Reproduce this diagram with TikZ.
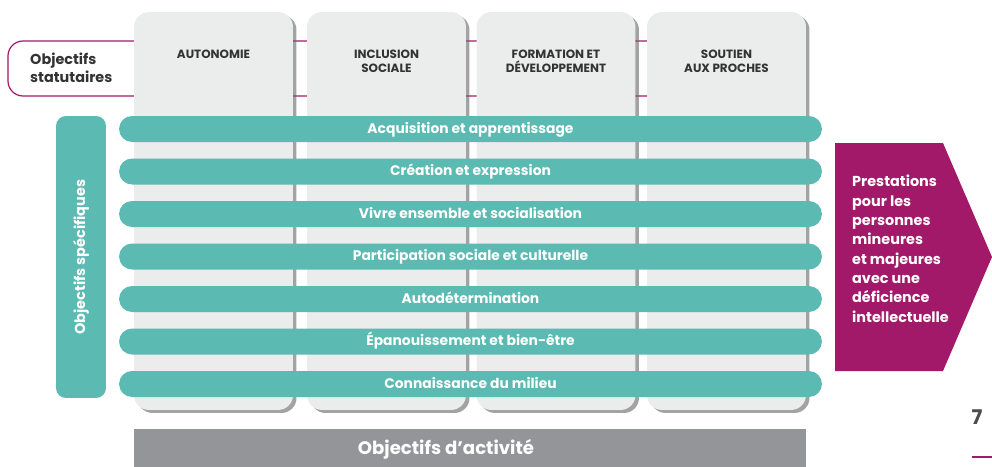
\documentclass[tikz,border=0pt]{standalone}
\usepackage{fontspec}
\setmainfont{Poppins}
\usetikzlibrary{shadows,shapes.misc}
\definecolor{teal1}{HTML}{5BBAB1}
\definecolor{mag}{HTML}{A3196A}
\definecolor{colgrey}{HTML}{EBECEC}
\definecolor{bargrey}{HTML}{939598}
\definecolor{txt}{HTML}{333333}
\begin{document}
\begin{tikzpicture}[x=0.02cm,y=-0.02cm,
  colbox/.style={fill=colgrey, rounded corners=0.3cm, minimum width=3.18cm, minimum height=7.96cm,
    drop shadow={shadow xshift=0.07cm, shadow yshift=-0.06cm, opacity=0.6, fill=black!60}},
  collabel/.style={font=\bfseries\fontsize{6.8}{8}\selectfont, text=txt, align=center, anchor=north},
  bar/.style={fill=teal1, rounded rectangle, minimum width=14.06cm, minimum height=0.52cm,
    font=\bfseries\fontsize{7.9}{9}\selectfont, text=white, inner sep=0pt, text height=6.2pt, text depth=1.2pt},
  ]
\useasboundingbox (0,0) rectangle (992,467);
% statutaires frame
\draw[mag, line width=0.7pt, rounded corners=0.3cm] (740,41) -- (8,41) -- (8,96) -- (740,96);
\node[anchor=west, font=\bfseries\fontsize{8.2}{10}\selectfont, text=txt, align=left] (stat) at (24,68) {Objectifs\\statutaires};
% columns
\node[colbox] (c1) at (213.5,211) {};
\node[colbox] (c2) at (386.5,211) {};
\node[colbox] (c3) at (556,211) {};
\node[colbox] (c4) at (726.5,211) {};
\node[collabel] (l1) at (213.5,44) {AUTONOMIE};
\node[collabel] (l2) at (386.5,44) {INCLUSION\\SOCIALE};
\node[collabel] (l3) at (556,44) {FORMATION ET\\DÉVELOPPEMENT};
\node[collabel] (l4) at (726.5,44) {SOUTIEN\\AUX PROCHES};
% specific objectives
\node[fill=teal1, rounded corners=0.2cm, minimum width=1cm, minimum height=5.64cm] (spec) at (81,257) {};
\node[rotate=90, font=\bfseries\fontsize{8.2}{10}\selectfont, text=white] (spect) at (81,257) {Objectifs spécifiques};
% bars
\node[bar] (b1) at (470.5,129) {Acquisition et apprentissage};
\node[bar] (b2) at (470.5,171.5) {Création et expression};
\node[bar] (b3) at (470.5,214) {Vivre ensemble et socialisation};
\node[bar] (b4) at (470.5,256.5) {Participation sociale et culturelle};
\node[bar] (b5) at (470.5,299) {Autodétermination};
\node[bar] (b6) at (470.5,341.5) {Épanouissement et bien-être};
\node[bar] (b7) at (470.5,384) {Connaissance du milieu};
% prestations arrow
\fill[mag] (835,143) -- (943,143) -- (992,257) -- (943,371) -- (835,371) -- cycle;
\node[anchor=north west, font=\bfseries\fontsize{8.2}{11}\selectfont, text=white, align=left] (prest) at (846,169)
 {Prestations\\pour les\\personnes\\mineures\\et majeures\\avec une\\déficience\\intellectuelle};
% activity bar
\node[fill=bargrey, minimum width=13.44cm, minimum height=0.76cm, inner sep=0pt] (act) at (470,448) {};
\node[font=\bfseries\fontsize{10.3}{12}\selectfont, text=white] (actt) at (446,449) {Objectifs d’activité};
% page number
\node[font=\bfseries\fontsize{11.5}{12}\selectfont, text=black!70] (pg) at (977,417) {7};
\coordinate (pl) at (972,457);
\coordinate (pr) at (992,457);
\draw[mag, line width=0.6pt] (pl) -- (pr);
\end{tikzpicture}
\end{document}
